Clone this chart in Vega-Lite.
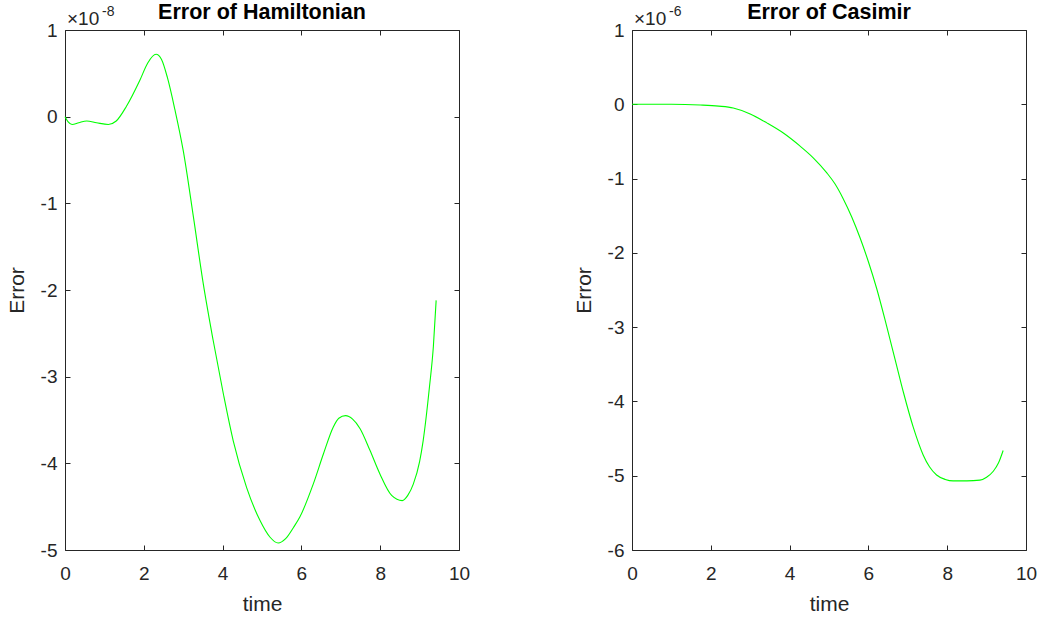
{
  "$schema": "https://vega.github.io/schema/vega-lite/v6.json",
  "background": "white",
  "padding": {"left": 6, "top": 1, "right": 0, "bottom": 0},
  "bounds": "flush",
  "spacing": 173,
  "datasets": {
    "ham": [
      {"t": 0, "err": 0},
      {"t": 0.08, "err": -0.06e-8},
      {"t": 0.18, "err": -0.09e-8},
      {"t": 0.35, "err": -0.07e-8},
      {"t": 0.55, "err": -0.05e-8},
      {"t": 0.8, "err": -0.07e-8},
      {"t": 1.1, "err": -0.09e-8},
      {"t": 1.3, "err": -0.05e-8},
      {"t": 1.56, "err": 0.12e-8},
      {"t": 1.9, "err": 0.42e-8},
      {"t": 2.1, "err": 0.62e-8},
      {"t": 2.31, "err": 0.72e-8},
      {"t": 2.45, "err": 0.66e-8},
      {"t": 2.6, "err": 0.45e-8},
      {"t": 2.79, "err": 0.08e-8},
      {"t": 3.0, "err": -0.39e-8},
      {"t": 3.26, "err": -1.16e-8},
      {"t": 3.51, "err": -1.93e-8},
      {"t": 3.76, "err": -2.58e-8},
      {"t": 4.02, "err": -3.2e-8},
      {"t": 4.27, "err": -3.74e-8},
      {"t": 4.61, "err": -4.28e-8},
      {"t": 4.95, "err": -4.66e-8},
      {"t": 5.2, "err": -4.85e-8},
      {"t": 5.41, "err": -4.92e-8},
      {"t": 5.6, "err": -4.87e-8},
      {"t": 5.8, "err": -4.74e-8},
      {"t": 5.96, "err": -4.62e-8},
      {"t": 6.3, "err": -4.24e-8},
      {"t": 6.56, "err": -3.89e-8},
      {"t": 6.81, "err": -3.58e-8},
      {"t": 6.95, "err": -3.48e-8},
      {"t": 7.12, "err": -3.45e-8},
      {"t": 7.3, "err": -3.49e-8},
      {"t": 7.49, "err": -3.6e-8},
      {"t": 7.74, "err": -3.85e-8},
      {"t": 7.99, "err": -4.12e-8},
      {"t": 8.29, "err": -4.37e-8},
      {"t": 8.56, "err": -4.43e-8},
      {"t": 8.7, "err": -4.37e-8},
      {"t": 8.84, "err": -4.24e-8},
      {"t": 9.0, "err": -3.98e-8},
      {"t": 9.09, "err": -3.74e-8},
      {"t": 9.25, "err": -3.12e-8},
      {"t": 9.35, "err": -2.65e-8},
      {"t": 9.42, "err": -2.12e-8}
    ],
    "cas": [
      {"t": 0, "err": 0},
      {"t": 1.0, "err": 0},
      {"t": 1.73, "err": -0.01e-6},
      {"t": 2.2, "err": -0.025e-6},
      {"t": 2.57, "err": -0.05e-6},
      {"t": 3.0, "err": -0.13e-6},
      {"t": 3.42, "err": -0.25e-6},
      {"t": 3.85, "err": -0.39e-6},
      {"t": 4.26, "err": -0.56e-6},
      {"t": 4.6, "err": -0.72e-6},
      {"t": 4.94, "err": -0.92e-6},
      {"t": 5.15, "err": -1.07e-6},
      {"t": 5.36, "err": -1.27e-6},
      {"t": 5.58, "err": -1.52e-6},
      {"t": 5.79, "err": -1.8e-6},
      {"t": 6.0, "err": -2.12e-6},
      {"t": 6.21, "err": -2.48e-6},
      {"t": 6.46, "err": -2.98e-6},
      {"t": 6.68, "err": -3.44e-6},
      {"t": 6.89, "err": -3.88e-6},
      {"t": 7.14, "err": -4.35e-6},
      {"t": 7.39, "err": -4.72e-6},
      {"t": 7.55, "err": -4.88e-6},
      {"t": 7.73, "err": -4.99e-6},
      {"t": 7.95, "err": -5.05e-6},
      {"t": 8.15, "err": -5.07e-6},
      {"t": 8.5, "err": -5.07e-6},
      {"t": 8.83, "err": -5.06e-6},
      {"t": 9.0, "err": -5.02e-6},
      {"t": 9.17, "err": -4.94e-6},
      {"t": 9.3, "err": -4.83e-6},
      {"t": 9.42, "err": -4.66e-6}
    ],
    "hexp": [{"base": "×10", "exp": "-8"}],
    "cexp": [{"base": "×10", "exp": "-6"}]
  },
  "config": {
    "font": "Liberation Sans",
    "view": {"stroke": null},
    "axis": {
      "grid": false,
      "domainColor": "#262626",
      "domainWidth": 1,
      "tickColor": "#262626",
      "tickSize": -5,
      "labelFlush": false,
      "labelColor": "#262626",
      "labelFont": "Liberation Sans",
      "labelFontSize": 19,
      "titleFont": "Liberation Sans",
      "titleFontSize": 21,
      "titleFontWeight": "normal",
      "titleColor": "#262626"
    },
    "axisX": {"labelPadding": 19, "titlePadding": 10, "labelFlush": false},
    "axisY": {"labelPadding": 13, "titlePadding": 13, "labelFlush": false},
    "title": {"font": "Liberation Sans", "fontSize": 21.5, "fontWeight": "bold", "color": "#000000", "offset": -18, "anchor": "middle"}
  },
  "hconcat": [
    {
      "width": 394,
      "height": 520,
      "title": "Error of Hamiltonian",
      "layer": [
        {
          "data": {"name": "ham"},
          "mark": {"type": "line", "color": "#00ff00", "strokeWidth": 1.1, "interpolate": "monotone"},
          "encoding": {
            "x": {"field": "t", "type": "quantitative", "scale": {"domain": [0, 10], "nice": false, "zero": false},
                  "axis": {"orient": "bottom", "values": [0, 2, 4, 6, 8, 10], "title": "time"}},
            "y": {"field": "err", "type": "quantitative", "scale": {"domain": [-5e-8, 1e-8], "nice": false, "zero": false},
                  "axis": {"orient": "left", "values": [-5e-8, -4e-8, -3e-8, -2e-8, -1e-8, 0, 1e-8], "labelExpr": "'' + round(datum.value * 1e8)", "title": "Error"}}
          }
        },
        {
          "data": {"name": "ham"},
          "mark": {"type": "line", "opacity": 0},
          "encoding": {
            "x": {"field": "t", "type": "quantitative", "axis": {"orient": "top", "values": [0, 2, 4, 6, 8, 10], "labels": false, "title": null}},
            "y": {"field": "err", "type": "quantitative", "axis": {"orient": "right", "values": [-5e-8, -4e-8, -3e-8, -2e-8, -1e-8, 0, 1e-8], "labels": false, "title": null}}
          }
        },
        {
          "data": {"name": "hexp"},
          "mark": {"type": "text", "align": "left", "baseline": "alphabetic", "fontSize": 19, "color": "#262626", "dx": 2, "dy": -5},
          "encoding": {"x": {"datum": 0, "axis": null}, "y": {"datum": 1e-8, "axis": null}, "text": {"field": "base"}}
        },
        {
          "data": {"name": "hexp"},
          "mark": {"type": "text", "align": "left", "baseline": "alphabetic", "fontSize": 14, "color": "#262626", "dx": 37, "dy": -14},
          "encoding": {"x": {"datum": 0, "axis": null}, "y": {"datum": 1e-8, "axis": null}, "text": {"field": "exp"}}
        }
      ],
      "resolve": {"axis": {"x": "independent", "y": "independent"}}
    },
    {
      "width": 394,
      "height": 520,
      "title": "Error of Casimir",
      "layer": [
        {
          "data": {"name": "cas"},
          "mark": {"type": "line", "color": "#00ff00", "strokeWidth": 1.1, "interpolate": "monotone"},
          "encoding": {
            "x": {"field": "t", "type": "quantitative", "scale": {"domain": [0, 10], "nice": false, "zero": false},
                  "axis": {"orient": "bottom", "values": [0, 2, 4, 6, 8, 10], "title": "time"}},
            "y": {"field": "err", "type": "quantitative", "scale": {"domain": [-6e-6, 1e-6], "nice": false, "zero": false},
                  "axis": {"orient": "left", "values": [-6e-6, -5e-6, -4e-6, -3e-6, -2e-6, -1e-6, 0, 1e-6], "labelExpr": "'' + round(datum.value * 1e6)", "title": "Error"}}
          }
        },
        {
          "data": {"name": "cas"},
          "mark": {"type": "line", "opacity": 0},
          "encoding": {
            "x": {"field": "t", "type": "quantitative", "axis": {"orient": "top", "values": [0, 2, 4, 6, 8, 10], "labels": false, "title": null}},
            "y": {"field": "err", "type": "quantitative", "axis": {"orient": "right", "values": [-6e-6, -5e-6, -4e-6, -3e-6, -2e-6, -1e-6, 0, 1e-6], "labels": false, "title": null}}
          }
        },
        {
          "data": {"name": "cexp"},
          "mark": {"type": "text", "align": "left", "baseline": "alphabetic", "fontSize": 19, "color": "#262626", "dx": 2, "dy": -5},
          "encoding": {"x": {"datum": 0, "axis": null}, "y": {"datum": 1e-6, "axis": null}, "text": {"field": "base"}}
        },
        {
          "data": {"name": "cexp"},
          "mark": {"type": "text", "align": "left", "baseline": "alphabetic", "fontSize": 14, "color": "#262626", "dx": 37, "dy": -14},
          "encoding": {"x": {"datum": 0, "axis": null}, "y": {"datum": 1e-6, "axis": null}, "text": {"field": "exp"}}
        }
      ],
      "resolve": {"axis": {"x": "independent", "y": "independent"}}
    }
  ]
}
